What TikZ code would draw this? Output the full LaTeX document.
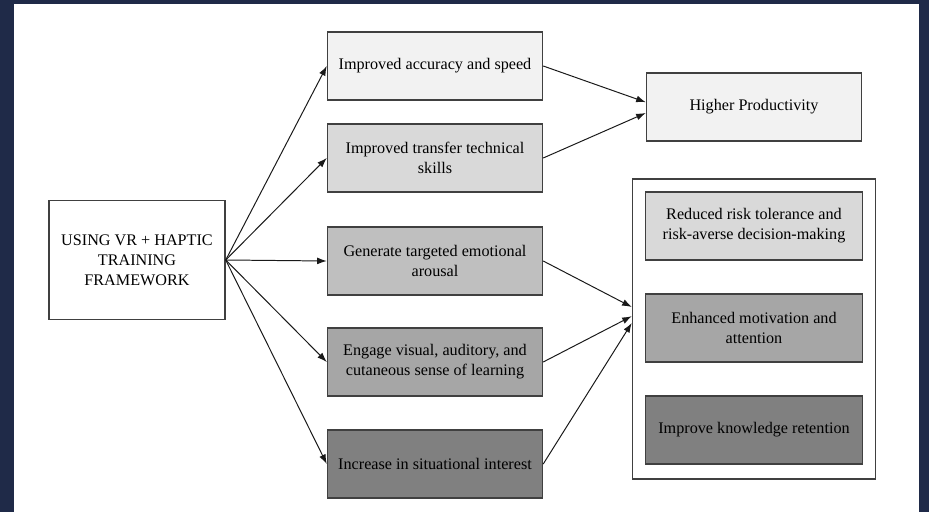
\documentclass[tikz,border=0pt]{standalone}
\usepackage{fontspec}
\setmainfont{Liberation Serif}
\usetikzlibrary{arrows.meta}
\definecolor{navy}{HTML}{1F2A48}
\definecolor{shadeA}{HTML}{F2F2F2}
\definecolor{shadeB}{HTML}{D9D9D9}
\definecolor{shadeC}{HTML}{BFBFBF}
\definecolor{shadeD}{HTML}{A6A6A6}
\definecolor{shadeE}{HTML}{808080}

\begin{document}
\begin{tikzpicture}[x=0.025cm,y=-0.025cm,
  box/.style={draw=black!75,line width=1pt,align=center,minimum width=5.375cm,minimum height=1.7cm,
    font=\fontsize{11.5}{14.2}\selectfont,text=black},
  arrow/.style={-{Latex[length=2.4mm,width=1.7mm]},line width=0.7pt,black!90}]
\fill[navy] (0,0) rectangle (929,512);
\fill[white] (14,4) rectangle (919,512);
\useasboundingbox (0,0) rectangle (929,512);
% left box
\node[box,minimum width=4.4cm,minimum height=2.975cm,fill=white] (main) at (137,260) {USING VR + HAPTIC\\TRAINING\\FRAMEWORK};
% middle column
\node[box,fill=shadeA] (accuracy) at (435,66) {Improved accuracy and speed};
\node[box,fill=shadeB] (transfer) at (435,158) {Improved transfer technical\\skills};
\node[box,fill=shadeC] (arousal) at (435,261) {Generate targeted emotional\\arousal};
\node[box,fill=shadeD] (senses) at (435,362) {Engage visual, auditory, and\\cutaneous sense of learning};
\node[box,fill=shadeE] (interest) at (435,464) {Increase in situational interest};
% right column
\node[box,fill=shadeA] (productivity) at (754,107) {Higher Productivity};
\node[draw=black!75,line width=1pt,fill=white,minimum width=6.075cm,minimum height=7.5cm] (outcomes) at (754,329) {};
\node[box,fill=shadeB,minimum width=5.425cm] (risk) at (754,226) {Reduced risk tolerance and\\risk-averse decision-making};
\node[box,fill=shadeD,minimum width=5.425cm] (motivation) at (754,328) {Enhanced motivation and\\attention};
\node[box,fill=shadeE,minimum width=5.425cm] (retention) at (754,430) {Improve knowledge retention};
% connectors
\foreach \n in {accuracy,transfer,arousal,senses,interest}
  \draw[arrow] (main.east) -- (\n.west);
\draw[arrow] (accuracy.east) -- ([yshift=1.2mm]productivity.west);
\draw[arrow] (transfer.east) -- ([yshift=-1.5mm]productivity.west);
\draw[arrow] (arousal.east) -- ([yshift=5.5mm]outcomes.west);
\draw[arrow] (senses.east) -- ([yshift=3.2mm]outcomes.west);
\draw[arrow] (interest.east) -- ([yshift=1.5mm]outcomes.west);
\end{tikzpicture}
\end{document}
